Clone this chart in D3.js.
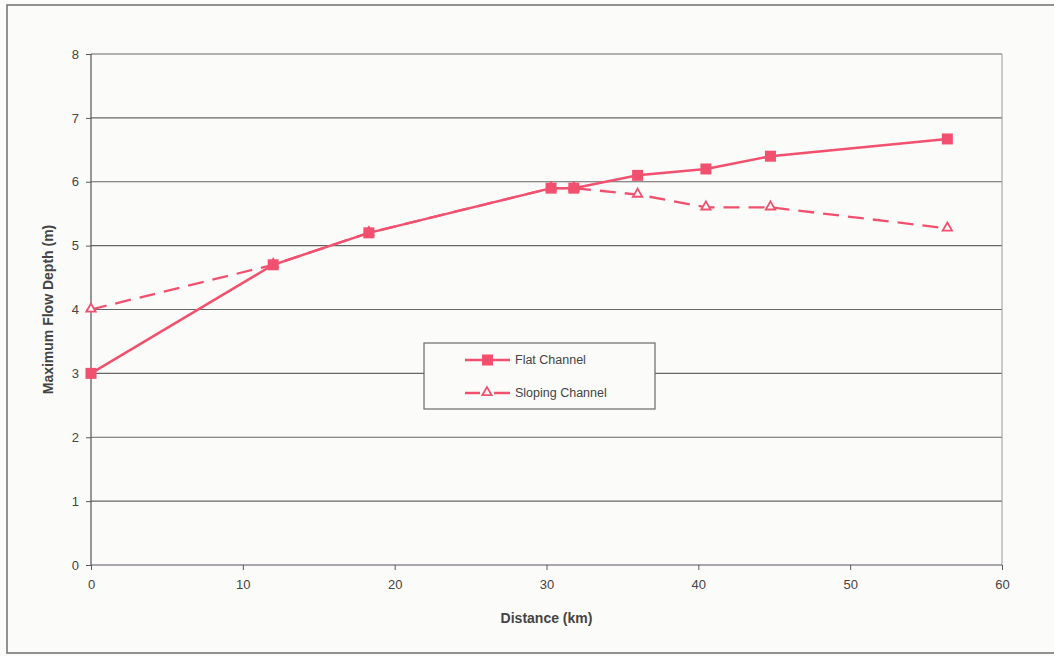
<!DOCTYPE html>
<html>
<head>
<meta charset="utf-8">
<script src="https://cdn.jsdelivr.net/npm/d3@7"></script>
<style>
  html, body { margin: 0; padding: 0; background: #fbfbf9; }
  svg { display: block; font-family: "Liberation Sans", Arial, sans-serif; }
</style>
</head>
<body>
<svg id="chart" width="1054" height="656"></svg>
<script>
// Distance along the channel (km) and maximum flow depth (m)
const flatDistance = [0, 12, 18.3, 30.3, 31.8, 36, 40.5, 44.75, 56.4];
const flatDepth    = [3, 4.7, 5.2, 5.9, 5.9, 6.1, 6.2, 6.4, 6.67];
const slopeDistance = [0, 12, 18.3, 30.3, 31.8, 36, 40.5, 44.75, 56.4];
const slopeDepth    = [4, 4.7, 5.2, 5.9, 5.9, 5.8, 5.6, 5.6, 5.27];
const xTicks = [0, 10, 20, 30, 40, 50, 60];
const yTicks = [0, 1, 2, 3, 4, 5, 6, 7, 8];
const seriesNames = ["Flat Channel", "Sloping Channel"];

const lineColor = "#f2506f";
const textColor = "#444";
const bg = "#fbfbf9";

const svg = d3.select("#chart");

// outer frame
svg.append("rect")
  .attr("x", 7).attr("y", 5).attr("width", 1060).attr("height", 648)
  .attr("fill", "none").attr("stroke", "#777").attr("stroke-width", 1.6);

const plot = { left: 91, right: 1002, top: 54, bottom: 565 };
const x = d3.scaleLinear().domain([0, 60]).range([plot.left, plot.right]);
const y = d3.scaleLinear().domain([0, 8]).range([plot.bottom, plot.top]);

// horizontal gridlines
svg.append("g").selectAll("line").data(yTicks.filter(d => d > 0)).join("line")
  .attr("x1", plot.left).attr("x2", plot.right)
  .attr("y1", d => y(d)).attr("y2", d => y(d))
  .attr("stroke", "#666").attr("stroke-width", 1.1);

// right border of the plot area
svg.append("line")
  .attr("x1", plot.right).attr("x2", plot.right)
  .attr("y1", plot.top).attr("y2", plot.bottom)
  .attr("stroke", "#9a9a9a").attr("stroke-width", 1);

// axes
const xAxis = d3.axisBottom(x).tickValues(xTicks).tickSize(5).tickPadding(10);
const yAxis = d3.axisLeft(y).tickValues(yTicks).tickSize(5).tickPadding(7);

const gx = svg.append("g").attr("transform", `translate(0,${plot.bottom})`).call(xAxis);
const gy = svg.append("g").attr("transform", `translate(${plot.left},0)`).call(yAxis);
[gx, gy].forEach(g => {
  g.select(".domain").attr("stroke", "#5a5060").attr("stroke-width", 1.2);
  g.selectAll(".tick line").attr("stroke", "#5a5a5a");
  g.selectAll(".tick text").attr("fill", textColor).style("font-size", "13px");
});
gx.select(".domain").attr("d", `M${plot.left},0H${plot.right}`);
gy.select(".domain").attr("d", `M0,${plot.top}V${plot.bottom}`);

// axis titles
svg.append("text")
  .attr("x", (plot.left + plot.right) / 2).attr("y", 623)
  .attr("text-anchor", "middle").attr("fill", textColor)
  .style("font-size", "14px").style("font-weight", "bold")
  .text("Distance (km)");
svg.append("text")
  .attr("transform", `translate(53,${(plot.top + plot.bottom) / 2}) rotate(-90)`)
  .attr("text-anchor", "middle").attr("fill", textColor)
  .style("font-size", "14px").style("font-weight", "bold")
  .text("Maximum Flow Depth (m)");

const line = d3.line().x(d => x(d[0])).y(d => y(d[1]));
const slopeData = slopeDistance.map((d, i) => [d, slopeDepth[i]]);
const flatData = flatDistance.map((d, i) => [d, flatDepth[i]]);

// sloping channel: dashed line with hollow triangles
svg.append("path").datum(slopeData)
  .attr("d", line).attr("fill", "none")
  .attr("stroke", lineColor).attr("stroke-width", 2.3)
  .attr("stroke-dasharray", "16,9");
const tri = d3.symbol().type(d3.symbolTriangle).size(38);
svg.append("g").selectAll("path").data(slopeData).join("path")
  .attr("d", tri)
  .attr("transform", d => `translate(${x(d[0])},${y(d[1]) - 0.5})`)
  .attr("fill", bg).attr("stroke", lineColor).attr("stroke-width", 1.8);

// flat channel: solid line with filled squares
svg.append("path").datum(flatData)
  .attr("d", line).attr("fill", "none")
  .attr("stroke", lineColor).attr("stroke-width", 2.5);
svg.append("g").selectAll("rect").data(flatData).join("rect")
  .attr("x", d => x(d[0]) - 5.5).attr("y", d => y(d[1]) - 5.5)
  .attr("width", 11).attr("height", 11)
  .attr("fill", lineColor);

// legend
const lg = svg.append("g");
lg.append("rect")
  .attr("x", 424).attr("y", 343).attr("width", 231).attr("height", 66)
  .attr("fill", bg).attr("stroke", "#6a6a6a").attr("stroke-width", 1.2);
const rows = [360, 393];
rows.forEach((ry, i) => {
  lg.append("line").attr("x1", 465).attr("x2", 510).attr("y1", ry).attr("y2", ry)
    .attr("stroke", lineColor).attr("stroke-width", 2.3);
  if (i === 0) {
    lg.append("rect").attr("x", 482).attr("y", ry - 5.5).attr("width", 11).attr("height", 11)
      .attr("fill", lineColor);
  } else {
    lg.append("rect").attr("x", 480).attr("y", ry - 4).attr("width", 14).attr("height", 8)
      .attr("fill", bg);
    lg.append("path").attr("d", tri)
      .attr("transform", `translate(487,${ry - 0.5})`)
      .attr("fill", bg).attr("stroke", lineColor).attr("stroke-width", 1.8);
  }
  lg.append("text").attr("x", 515).attr("y", ry + 4)
    .attr("fill", textColor).style("font-size", "12.5px")
    .text(seriesNames[i]);
});
</script>
</body>
</html>
